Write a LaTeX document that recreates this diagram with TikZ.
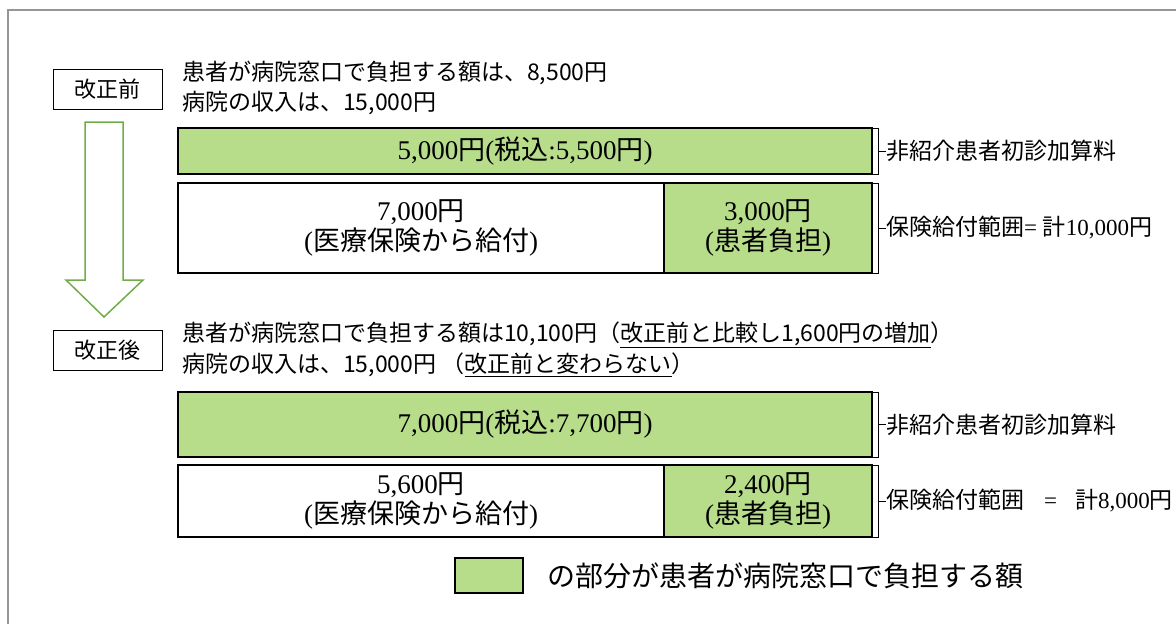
\documentclass[tikz,border=0pt]{standalone}
\usepackage{fontspec}
\setmainfont{Liberation Serif}
\newfontfamily\jpfont{Noto Sans CJK JP}
\usetikzlibrary{positioning}
\definecolor{paygreen}{RGB}{183,221,139}
\definecolor{arrowgreen}{RGB}{112,173,71}
\definecolor{framegray}{RGB}{150,150,150}
\newcommand{\jp}[1]{{\jpfont #1}}
\tikzset{
  stagebox/.style={draw, line width=1pt, minimum width=109pt, minimum height=40pt, inner sep=0pt, font=\jpfont\fontsize{22}{26}\selectfont},
  info/.style={anchor=west, inner sep=0pt, font=\jpfont\fontsize{23}{27}\selectfont},
  bar/.style={draw, line width=1.3pt, anchor=north west, inner sep=0pt, outer sep=0pt, align=center, font=\fontsize{27}{30}\selectfont},
  paid/.style={bar, fill=paygreen},
  brk/.style={draw, line width=0.8pt},
  side/.style={anchor=west, inner sep=0pt, font=\fontsize{23}{26}\selectfont},
}

\begin{document}
\begin{tikzpicture}[x=1pt,y=-1pt]
  \useasboundingbox (0,0) rectangle (1176,624);
  \draw[framegray, line width=2pt] (8,624) -- (8,10) -- (1176,10);
  % before the revision
  \node[stagebox] (before) at (107.5,89) {改正前};
  \node[info] (beforepay) at (182,73) {患者が病院窓口で負担する額は、8,500円};
  \node[info] (beforeincome) at (182,103) {病院の収入は、15,000円};
  \node[paid, minimum width=694pt, minimum height=46pt] (fee1) at (178,128) {5,000\jp{円}(\jp{税込}:5,500\jp{円})};
  \node[bar, minimum width=486pt, minimum height=90pt] (ins1) at (178,183) {7,000\jp{円}\\(\jp{医療保険から給付})};
  \node[paid, minimum width=208pt, minimum height=90pt] (pay1) at (664,183) {3,000\jp{円}\\(\jp{患者負担})};
  \node[side, right=14pt of fee1.east] (fee1lbl) {\jp{非紹介患者初診加算料}};
  \node[side, right=14pt of pay1.east] (pay1lbl) {\jp{保険給付範囲}= \jp{計}10,000\jp{円}};
  \draw[brk] (fee1.north east) -- ++(6,0) |- (fee1.south east);
  \draw[brk] (fee1.east) ++(6,0) -- (fee1lbl.west);
  \draw[brk] (pay1.north east) -- ++(6,0) |- (pay1.south east);
  \draw[brk] (pay1.east) ++(6,0) -- (pay1lbl.west);
  % block arrow
  \draw[arrowgreen, line width=1.5pt, fill=white] (85,122) -- (123,122) -- (123,280) -- (143,280) -- (104,317) -- (66,280) -- (85,280) -- cycle;
  % after the revision
  \node[stagebox] (after) at (107.5,350) {改正後};
  \node[info] (afterpay) at (182,335) {患者が病院窓口で負担する額は10,100円（\underline{改正前と比較し1,600円の増加}）};
  \node[info] (afterincome) at (182,365) {病院の収入は、15,000円 （\underline{改正前と変わらない}）};
  \node[paid, minimum width=694pt, minimum height=65pt] (fee2) at (178,392) {7,000\jp{円}(\jp{税込}:7,700\jp{円})};
  \node[bar, minimum width=486pt, minimum height=72pt] (ins2) at (178,465) {5,600\jp{円}\\(\jp{医療保険から給付})};
  \node[paid, minimum width=208pt, minimum height=72pt] (pay2) at (664,465) {2,400\jp{円}\\(\jp{患者負担})};
  \node[side, right=14pt of fee2.east] (fee2lbl) {\jp{非紹介患者初診加算料}};
  \node[side, right=14pt of pay2.east] (pay2lbl) {\jp{保険給付範囲}\hspace{20pt}=\hspace{18pt}\jp{計}8,000\jp{円}};
  \draw[brk] (fee2.north east) -- ++(6,0) |- (fee2.south east);
  \draw[brk] (fee2.east) ++(6,0) -- (fee2lbl.west);
  \draw[brk] (pay2.north east) -- ++(6,0) |- (pay2.south east);
  \draw[brk] (pay2.east) ++(6,0) -- (pay2lbl.west);
  % legend
  \node[paid, anchor=center, line width=2pt, minimum width=68pt, minimum height=35pt] (key) at (489,575.5) {};
  \node[anchor=west, inner sep=0pt, font=\jpfont\fontsize{28}{32}\selectfont, right=24pt of key] (keytxt) {の部分が患者が病院窓口で負担する額};
\end{tikzpicture}
\end{document}
